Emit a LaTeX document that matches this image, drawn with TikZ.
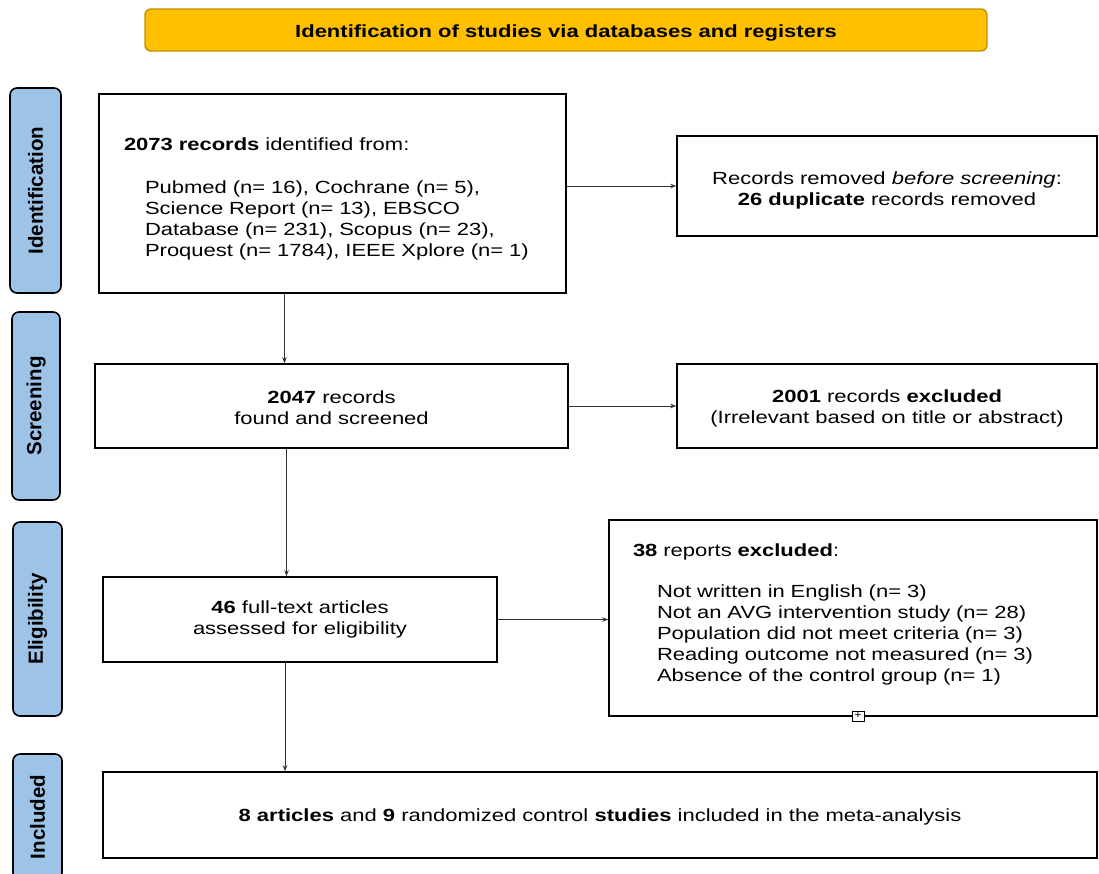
\documentclass[tikz,border=0pt]{standalone}
\usepackage{fontspec}
\setmainfont{Liberation Sans}[FakeStretch=1.25]
\newfontfamily\stagefont{Liberation Sans}
\usetikzlibrary{arrows.meta}

\definecolor{bannerfill}{HTML}{FFC000}
\definecolor{bannerline}{HTML}{BF9000}
\definecolor{stagefill}{HTML}{9DC3E6}

\begin{document}
\begin{tikzpicture}
          [x=1pt,y=-1pt,
           box/.style={draw,line width=1.6pt,inner sep=0pt,align=center,font=\fontsize{17.6}{20.8}\selectfont},
           stage/.style={draw,line width=1.6pt,rounded corners=7pt,fill=stagefill,inner sep=0pt,rotate=90,
                         font=\stagefont\bfseries\fontsize{20.5}{22}\selectfont},
           arr/.style={-{Stealth[length=6pt,width=4.5pt]},line width=0.8pt,draw=black!80}]

          \useasboundingbox (0,0) rectangle (1099,873);

          \node[draw=bannerline,line width=1.4pt,fill=bannerfill,rounded corners=6pt,minimum width=842pt,minimum height=42pt,
                font=\bfseries\fontsize{17.6}{20}\selectfont] (banner) at (566,30) {\rule{0pt}{18.5pt}Identification of studies via databases and registers};

          \node[stage,minimum width=205pt,minimum height=51pt] (ident) at (35.5,190.5) {Identification};
          \node[stage,minimum width=188pt,minimum height=48pt] (screen) at (36,406) {Screening};
          \node[stage,minimum width=194pt,minimum height=49pt] (elig) at (37.5,619) {Eligibility};
          \node[stage,minimum width=126pt,minimum height=49pt] (incl) at (37.5,817) {Included};

          \node[box,align=left,text width=417pt,minimum width=467pt,minimum height=199pt] (found) at (332.5,193.5)
            {\rule{0pt}{22.9pt}\textbf{2073 records} identified from:\\[23pt]
             \hspace*{21pt}Pubmed (n= 16), Cochrane (n= 5),\\
             \hspace*{21pt}Science Report (n= 13), EBSCO\\
             \hspace*{21pt}Database (n= 231), Scopus (n= 23),\\
             \hspace*{21pt}Proquest (n= 1784), IEEE Xplore (n= 1)};
          \node[box,minimum width=420pt,minimum height=100pt] (dupl) at (887,186)
            {\rule{0pt}{20.9pt}Records removed \textit{before screening}:\\\textbf{26 duplicate} records removed};
          \node[box,minimum width=473pt,minimum height=84pt] (screened) at (331.5,406)
            {\rule{0pt}{16.8pt}\textbf{2047} records\\found and screened};
          \node[box,minimum width=420pt,minimum height=84pt] (excl) at (887,406)
            {\rule{0pt}{16.9pt}\textbf{2001} records \textbf{excluded}\\(Irrelevant based on title or abstract)};
          \node[box,minimum width=394pt,minimum height=85pt] (full) at (300,619.5)
            {\textbf{46} full-text articles\\assessed for eligibility};
          \node[box,align=left,text width=440pt,minimum width=488pt,minimum height=196pt] (reports) at (853,618)
            {\textbf{38} reports \textbf{excluded}:\\[21pt]
             \hspace*{24pt}Not written in English (n= 3)\\
             \hspace*{24pt}Not an AVG intervention study (n= 28)\\
             \hspace*{24pt}Population did not meet criteria (n= 3)\\
             \hspace*{24pt}Reading outcome not measured (n= 3)\\
             \hspace*{24pt}Absence of the control group (n= 1)\rule[-11.7pt]{0pt}{11.7pt}};
          \node[box,minimum width=994pt,minimum height=86pt] (meta) at (600,815)
            {\rule{0pt}{16.9pt}\textbf{8 articles} and \textbf{9} randomized control \textbf{studies} included in the meta-analysis};
          \node[draw,fill=white,line width=0.8pt,inner sep=0pt,minimum width=12pt,minimum height=10pt,
                font=\fontsize{10}{10}\selectfont] (anchor) at (858,716) {+};

          \draw[arr] (found.east |- dupl.west) -- (dupl.west);
          \draw[arr] ([xshift=-48pt]found.south) -- ([xshift=-48pt]found.south |- screened.north);
          \draw[arr] (screened.east) -- (excl.west);
          \draw[arr] ([xshift=-45pt]screened.south) -- ([xshift=-45pt]screened.south |- full.north);
          \draw[arr] (full.east) -- (full.east -| reports.west);
          \draw[arr] ([xshift=-15pt]full.south) -- ([xshift=-15pt]full.south |- meta.north);
        \end{tikzpicture}
\end{document}
